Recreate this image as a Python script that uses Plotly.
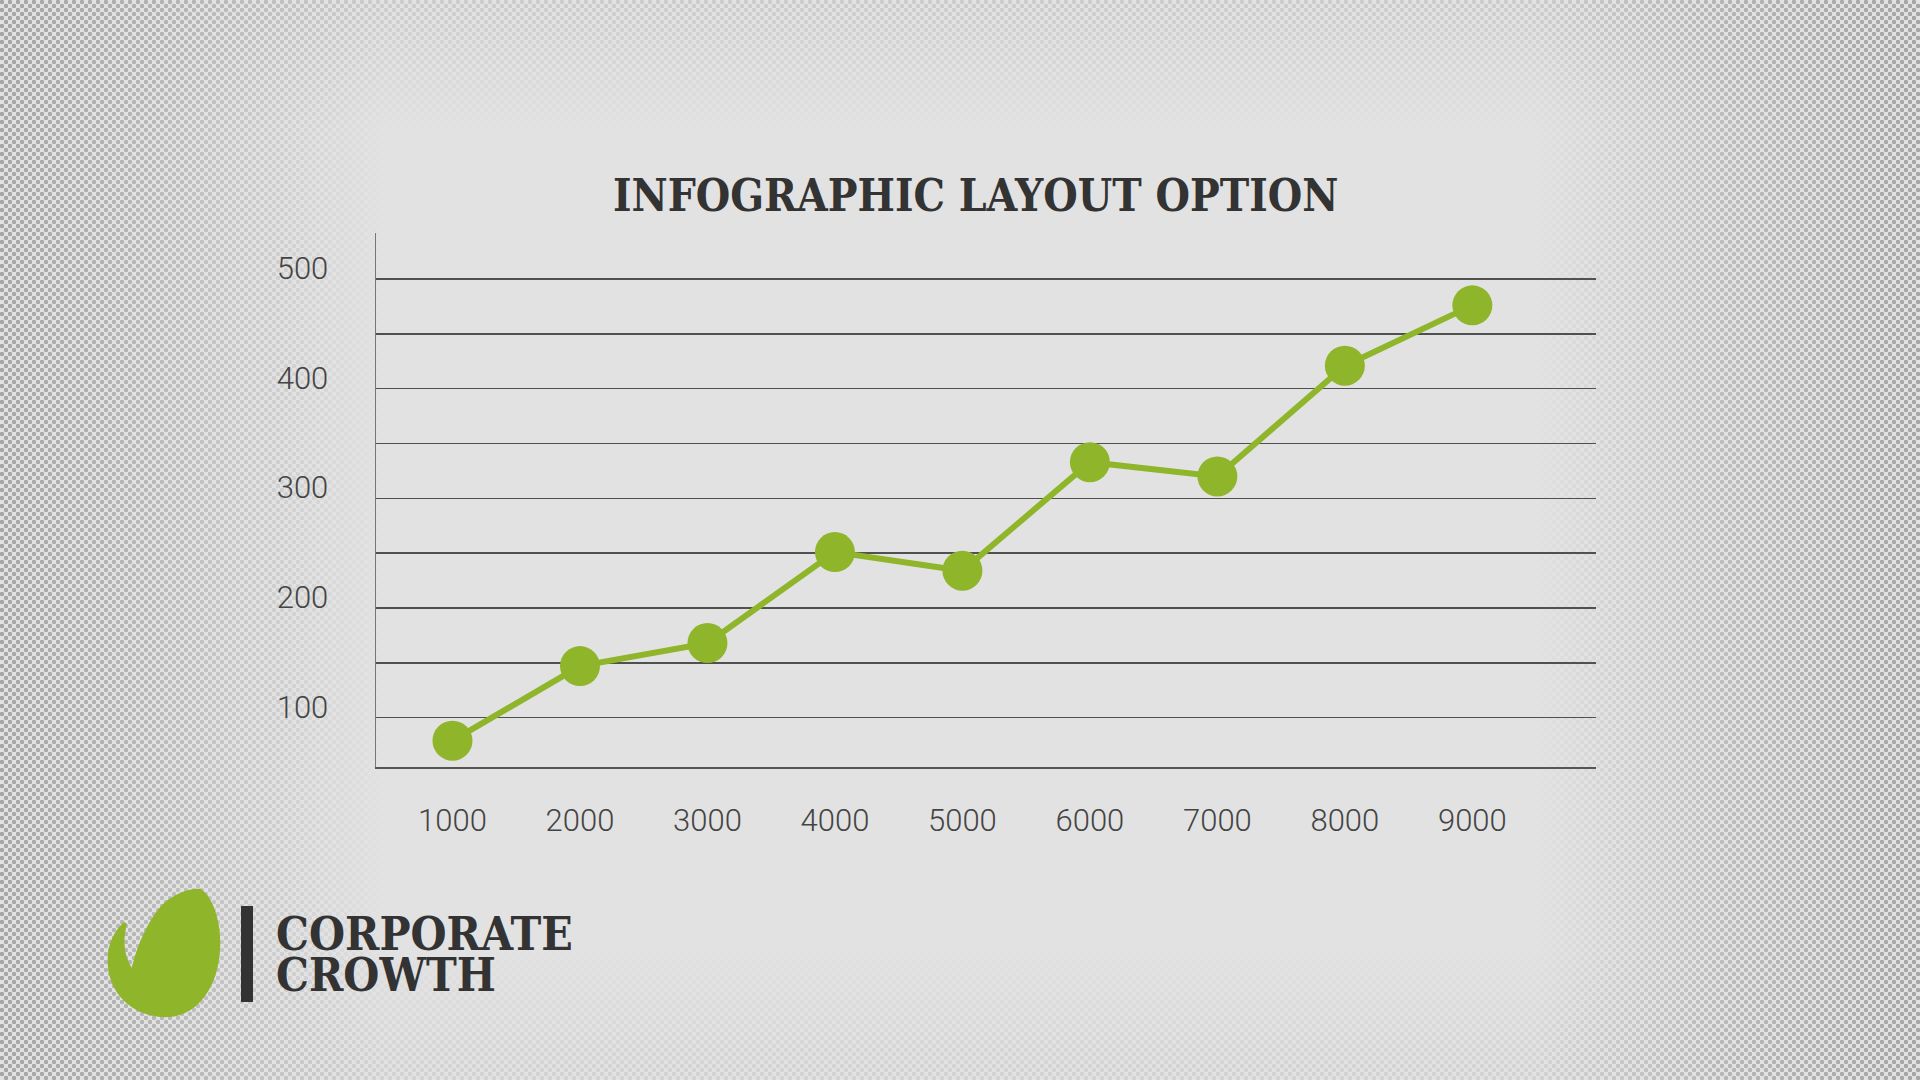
import base64
import plotly.graph_objects as go

# ---- data ----
x_values = [1000, 2000, 3000, 4000, 5000, 6000, 7000, 8000, 9000]
y_values = [79, 147, 168, 251, 234, 333, 320, 421, 476]
x_tick_labels = ["1000", "2000", "3000", "4000", "5000", "6000", "7000", "8000", "9000"]
y_tick_vals = [100, 150, 200, 250, 300, 350, 400, 450, 500]
y_tick_text = ["100", "", "200", "", "300", "", "400", "", "500"]
title_text = "INFOGRAPHIC LAYOUT OPTION"
brand_lines = ["CORPORATE", "CROWTH"]

# ---- layout geometry (pixels) ----
W, H = 1920, 1080
ML, MR, MT, MB = 376, 324, 233, 313
PW, PH = W - ML - MR, H - MT - MB

def P(px, py):
    return (px - ML) / PW, (H - MB - py) / PH

GREEN = "#8fb52a"
BG = "#e2e2e2"
DARK = "#333333"

# halftone background texture (decorative SVG)
svg = f'''<svg xmlns="http://www.w3.org/2000/svg" width="{W}" height="{H}" viewBox="0 0 {W} {H}">
<defs>
<pattern id="dots" width="8" height="8" patternUnits="userSpaceOnUse">
<circle cx="2" cy="2" r="2.2" fill="#a2a2a2"/>
<circle cx="6" cy="6" r="2.2" fill="#a2a2a2"/>
</pattern>
<linearGradient id="gh" x1="0" y1="0" x2="1" y2="0">
<stop offset="0" stop-color="#fff" stop-opacity="0.95"/>
<stop offset="0.08" stop-color="#fff" stop-opacity="0.65"/>
<stop offset="0.2" stop-color="#fff" stop-opacity="0"/>
<stop offset="0.8" stop-color="#fff" stop-opacity="0"/>
<stop offset="0.9" stop-color="#fff" stop-opacity="0.6"/>
<stop offset="1" stop-color="#fff" stop-opacity="0.95"/>
</linearGradient>
<linearGradient id="gv" x1="0" y1="0" x2="0" y2="1">
<stop offset="0" stop-color="#fff" stop-opacity="0.35"/>
<stop offset="0.12" stop-color="#fff" stop-opacity="0"/>
<stop offset="0.88" stop-color="#fff" stop-opacity="0"/>
<stop offset="1" stop-color="#fff" stop-opacity="0.25"/>
</linearGradient>
<mask id="m">
<rect width="{W}" height="{H}" fill="url(#gh)"/>
<rect width="{W}" height="{H}" fill="url(#gv)"/>
</mask>
</defs>
<rect width="{W}" height="{H}" fill="url(#dots)" mask="url(#m)"/>
</svg>'''
svg_uri = "data:image/svg+xml;base64," + base64.b64encode(svg.encode()).decode()

fig = go.Figure()
fig.add_trace(go.Scatter(
    x=x_values, y=y_values, mode="lines+markers",
    line=dict(color=GREEN, width=6),
    marker=dict(color=GREEN, size=40, line=dict(width=0)),
    hoverinfo="skip", showlegend=False,
))

fig.update_layout(
    width=W, height=H,
    paper_bgcolor=BG, plot_bgcolor="rgba(0,0,0,0)",
    margin=dict(l=ML, r=MR, t=MT, b=MB, pad=0),
    font=dict(family="Roboto", color="#444444"),
    xaxis=dict(
        range=[400, 9970], tickvals=x_values, ticktext=x_tick_labels,
        showgrid=False, zeroline=False,
        showline=True, linecolor="#555555", linewidth=1.5,
        ticks="", ticklabelstandoff=25,
        tickfont=dict(family="Roboto", size=31, color="#444444", weight=300),
        fixedrange=True,
    ),
    yaxis=dict(
        range=[55, 542], tickvals=y_tick_vals, ticktext=y_tick_text,
        showgrid=True, gridcolor="#505050", gridwidth=1.5,
        zeroline=False,
        showline=True, linecolor="#777777", linewidth=1.5,
        ticks="", ticklabelstandoff=40, ticklabelshift=-11,
        tickfont=dict(family="Roboto", size=31, color="#444444", weight=300),
        fixedrange=True,
    ),
)

ix, iy = P(0, 0)
fig.add_layout_image(dict(
    source=svg_uri, xref="paper", yref="paper", x=ix, y=iy,
    sizex=W / PW, sizey=H / PH, sizing="stretch",
    xanchor="left", yanchor="top", layer="below", opacity=1,
))

# title
tx, ty = P(975, 196)
fig.add_annotation(
    x=tx, y=ty, xref="paper", yref="paper", text="<b>%s</b>" % title_text,
    showarrow=False, xanchor="center", yanchor="middle",
    font=dict(family="DejaVu Serif Condensed", size=44, color=DARK),
)

# brand text
for line, cy in zip(brand_lines, [934, 975]):
    bx, by = P(275, cy)
    fig.add_annotation(
        x=bx, y=by, xref="paper", yref="paper", text="<b>%s</b>" % line,
        showarrow=False, xanchor="left", yanchor="middle",
        height=40, valign="middle", borderpad=0,
        font=dict(family="DejaVu Serif Condensed", size=46, color=DARK),
    )

# vertical bar of logo
x0, y0 = P(241, 906)
x1, y1 = P(253, 1002)
fig.add_shape(type="rect", xref="paper", yref="paper", x0=x0, y0=y0, x1=x1, y1=y1,
              fillcolor=DARK, line=dict(width=0))

# leaf
def path_from(cmds):
    out = []
    for c in cmds:
        if isinstance(c, str):
            out.append(c)
        else:
            px, py = P(*c)
            out.append("%.5f,%.5f" % (px, py))
    return " ".join(out)

leaf = path_from([
    "M", (201, 889),
    "C", (214, 898), (222, 925), (220, 950),
    "C", (218, 985), (200, 1014), (170, 1017),
    "C", (140, 1019), (112, 1000), (108, 968),
    "C", (106, 948), (112, 933), (124, 922),
    "L", (127, 924),
    "C", (122, 942), (125, 958), (132, 968),
    "C", (136, 948), (148, 920), (162, 905),
    "C", (175, 893), (190, 888), (201, 889),
    "Z",
])
fig.add_shape(type="path", xref="paper", yref="paper", path=leaf,
              fillcolor=GREEN, line=dict(width=0))

fig.write_html(
    "out.html",
    config={"displayModeBar": False, "staticPlot": True},
    post_script="document.body.style.margin='0px';document.body.style.overflow='hidden';",
)
